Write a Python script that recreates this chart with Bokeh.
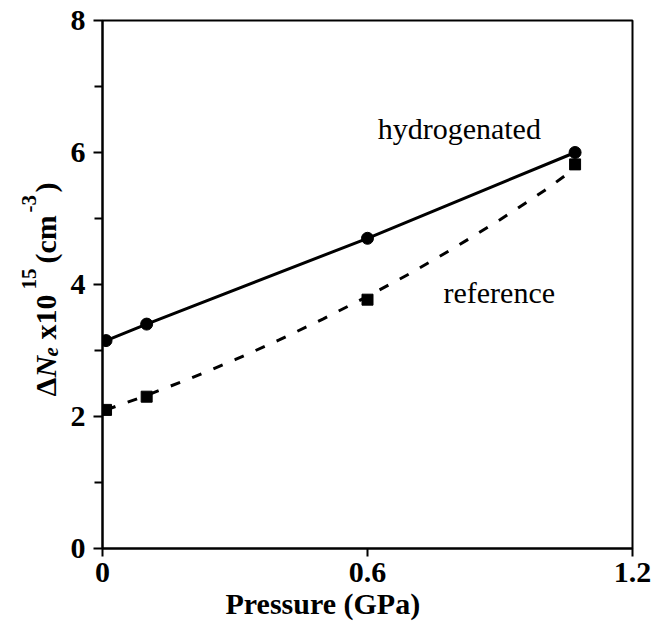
from bokeh.plotting import figure
from bokeh.models import Range1d, FixedTicker, Label, Title
from bokeh.layouts import row
from bokeh.embed import file_html
from bokeh.resources import INLINE

# ---- data ----
pressure = [0.008, 0.1, 0.6, 1.07]
hydrogenated = [3.15, 3.40, 4.70, 6.00]
reference = [2.10, 2.30, 3.77, 5.82]

# dashed guide curve through the reference points
ref_curve_p = [0.008, 0.1, 0.2, 0.3, 0.4, 0.5, 0.6, 0.7, 0.8, 0.9, 1.0, 1.07]
ref_curve_v = [2.10, 2.32, 2.58, 2.86, 3.16, 3.48, 3.82, 4.18, 4.57, 4.98, 5.42, 5.76]

x_ticks = [0, 0.6, 1.2]
x_tick_labels = ["0", "0.6", "1.2"]
y_ticks = [0, 2, 4, 6, 8]
y_minor = [1, 3, 5, 7]

SERIF = "Liberation Serif"
H = 631
STRIP_W = 64
TOP, BOTTOM = 20, 83
FRAME_TOP, FRAME_BOTTOM = TOP, H - BOTTOM

# ---------- main plot ----------
p = figure(width=652 - STRIP_W, height=H, output_backend="svg", toolbar_location=None,
           x_range=Range1d(0, 1.2), y_range=Range1d(0, 8),
           min_border_left=102 - STRIP_W, min_border_right=20, min_border_top=TOP,
           min_border_bottom=BOTTOM)
p.background_fill_color = "white"
p.border_fill_color = "white"
p.outline_line_color = "black"
p.outline_line_width = 2
p.xgrid.visible = False
p.ygrid.visible = False

for ax in (p.xaxis[0], p.yaxis[0]):
    ax.axis_line_width = 2
    ax.axis_line_color = "black"
    ax.major_tick_line_width = 2
    ax.minor_tick_line_width = 2
    ax.major_tick_in = 0
    ax.minor_tick_in = 0
    ax.major_label_text_font = SERIF
    ax.major_label_text_font_style = "bold"
    ax.major_label_text_font_size = "30px"
    ax.major_label_text_color = "black"

p.xaxis[0].ticker = FixedTicker(ticks=x_ticks, minor_ticks=[])
p.xaxis[0].major_label_overrides = {t: l for t, l in zip(x_ticks, x_tick_labels)}
p.xaxis[0].major_tick_out = 8
p.xaxis[0].major_label_standoff = 6

p.yaxis[0].ticker = FixedTicker(ticks=y_ticks, minor_ticks=y_minor)
p.yaxis[0].major_tick_out = 9
p.yaxis[0].minor_tick_out = 8
p.yaxis[0].major_label_standoff = 8

p.line(pressure, hydrogenated, line_color="black", line_width=3)
p.line(ref_curve_p, ref_curve_v, line_color="black", line_width=3, line_dash="10 13")
p.scatter(pressure, hydrogenated, marker="circle", size=12, fill_color="black", line_color="black")
p.scatter(pressure, reference, marker="square", size=11, fill_color="black", line_color="black")

p.add_layout(Label(x=0.623, y=6.36, text="hydrogenated", text_font=SERIF,
                   text_font_size="30px", text_color="black", text_baseline="alphabetic"))
p.add_layout(Label(x=0.772, y=3.88, text="reference", text_font=SERIF,
                   text_font_size="30px", text_color="black", text_baseline="alphabetic"))

# x-axis title as a bottom title, shifted left like the reference
xtitle = Title(text="Pressure (GPa)", align="left", offset=225 - 102, standoff=0,
               text_font=SERIF, text_font_size="30px", text_font_style="bold",
               text_color="black")
p.add_layout(xtitle, "below")

# ---------- left strip holding the rotated y-axis title ----------
s = figure(width=STRIP_W, height=H, output_backend="svg", toolbar_location=None,
           x_range=Range1d(0, STRIP_W), y_range=Range1d(FRAME_BOTTOM, FRAME_TOP),
           x_axis_location=None, y_axis_location=None,
           min_border_left=0, min_border_right=0, min_border_top=TOP,
           min_border_bottom=BOTTOM)
s.outline_line_color = None
s.xgrid.visible = False
s.ygrid.visible = False
s.background_fill_color = "white"
s.border_fill_color = "white"

base_x = 45
start_y = 396
pieces = [
    # text, offset along axis, size, style, baseline raise
    ("\u0394", 0, "30px", "bold", 0),
    ("N", 19, "30px", "bold italic", 0),
    ("e", 40, "21px", "bold italic", -5),
    ("x10", 57, "30px", "bold", 0),
    ("15", 107, "21px", "bold", 17),
    ("(cm", 133, "30px", "bold", 0),
    ("-3", 184, "21px", "bold", 17),
    (")", 204, "30px", "bold", 0),
]
for txt, off, size, style, shift in pieces:
    s.add_layout(Label(x=base_x - shift, y=start_y - off,
                       text=txt, angle=90, angle_units="deg", text_font=SERIF,
                       text_font_size=size, text_font_style=style, text_color="black",
                       text_baseline="alphabetic", text_align="left"))

layout = row(s, p)
open("out.html", "w").write(file_html(layout, INLINE))
